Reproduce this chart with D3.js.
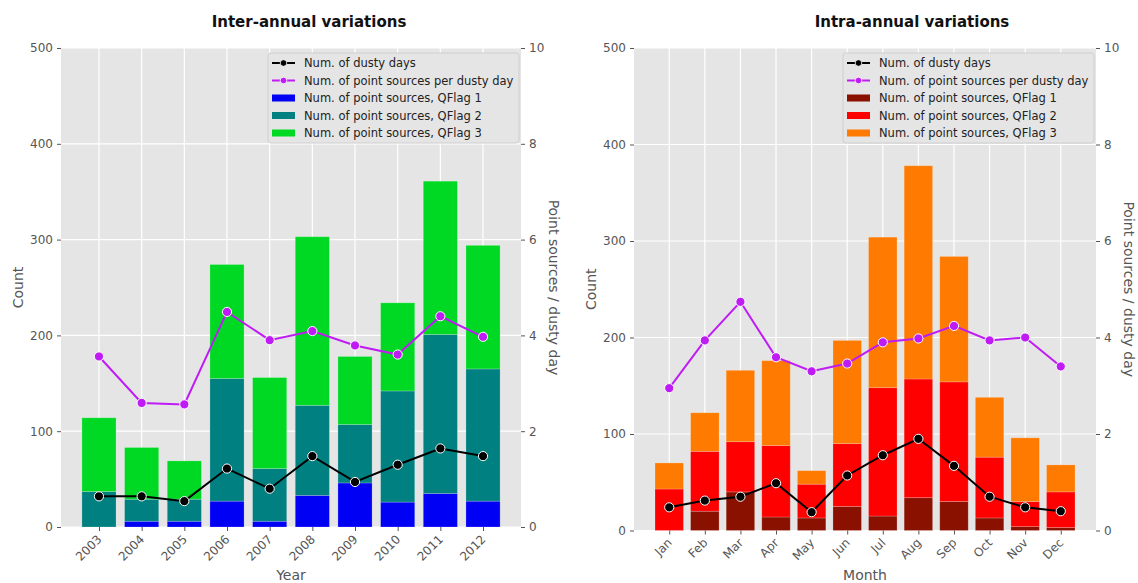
<!DOCTYPE html>
<html>
<head>
<meta charset="utf-8">
<script src="https://cdn.jsdelivr.net/npm/d3@7/dist/d3.min.js"></script>
<style>
  html, body { margin: 0; padding: 0; background: #ffffff; }
  svg { display: block; }
  text { font-family: "DejaVu Sans", sans-serif; }
</style>
</head>
<body>
<svg id="chart" width="1138" height="583"></svg>
<script>
// ---- Inter-annual data ----
const years = ["2003","2004","2005","2006","2007","2008","2009","2010","2011","2012"];
const yearQ1 = [0, 6, 6, 27, 6, 33, 46, 26, 35, 27];
const yearQ2 = [37, 23, 23, 128, 55, 94, 61, 116, 166, 138];
const yearQ3 = [77, 54, 40, 119, 95, 176, 71, 92, 160, 129];
const yearDustyDays = [32, 32, 27, 61, 40, 74, 47, 65, 82, 74];
const yearPerDay = [3.56, 2.59, 2.56, 4.49, 3.90, 4.09, 3.79, 3.60, 4.40, 3.97];

// ---- Intra-annual data ----
const months = ["Jan","Feb","Mar","Apr","May","Jun","Jul","Aug","Sep","Oct","Nov","Dec"];
const monthQ1 = [0, 20, 40, 14, 13, 25, 15, 34, 30, 13, 4, 3];
const monthQ2 = [43, 62, 52, 74, 35, 65, 133, 123, 124, 63, 26, 37];
const monthQ3 = [27, 40, 74, 88, 14, 107, 156, 221, 130, 62, 66, 28];
const monthDustyDays = [24, 31, 35, 49, 19, 57, 78, 95, 67, 35, 24, 20];
const monthPerDay = [2.95, 3.94, 4.74, 3.59, 3.30, 3.46, 3.90, 3.98, 4.24, 3.94, 4.00, 3.40];

// ---- Shared axis settings ----
const countTicks = [0, 100, 200, 300, 400, 500];
const ratioTicks = [0, 2, 4, 6, 8, 10];
const legendLabels = [
  "Num. of dusty days",
  "Num. of point sources per dusty day",
  "Num. of point sources, QFlag 1",
  "Num. of point sources, QFlag 2",
  "Num. of point sources, QFlag 3"
];

const svg = d3.select("#chart");
const GRID = "#ffffff", BG = "#e5e5e5", TICK = "#555555";
const PURPLE = "#bf1cf5";

function drawPanel(p) {
  const g = svg.append("g");
  const n = p.cats.length;
  const pad = 0.4 + 0.05 * ((n - 1) + 0.8);
  const x = d3.scaleLinear().domain([-pad, n - 1 + pad]).range([p.left, p.right]);
  const y = d3.scaleLinear().domain([0, 500]).range([p.bottom, p.top]);
  const y2 = d3.scaleLinear().domain([0, 10]).range([p.bottom, p.top]);

  // plot background
  g.append("rect").attr("x", p.left).attr("y", p.top)
    .attr("width", p.right - p.left).attr("height", p.bottom - p.top).attr("fill", BG);

  // grid
  g.append("g").selectAll("line").data(countTicks).join("line")
    .attr("x1", p.left).attr("x2", p.right)
    .attr("y1", d => y(d)).attr("y2", d => y(d))
    .attr("stroke", GRID).attr("stroke-width", 1.2);
  g.append("g").selectAll("line").data(d3.range(n)).join("line")
    .attr("x1", d => x(d)).attr("x2", d => x(d))
    .attr("y1", p.top).attr("y2", p.bottom)
    .attr("stroke", GRID).attr("stroke-width", 1.2);

  // stacked bars
  const rows = p.cats.map((c, i) => ({ i, q1: p.q1[i], q2: p.q2[i], q3: p.q3[i] }));
  const stack = d3.stack().keys(["q1", "q2", "q3"])(rows);
  const bw = x(0.8) - x(0);
  g.append("g").selectAll("g").data(stack).join("g")
    .attr("fill", (d, k) => p.colors[k])
    .selectAll("rect").data(d => d).join("rect")
    .attr("x", d => x(d.data.i) - bw / 2)
    .attr("width", bw)
    .attr("y", d => y(d[1]))
    .attr("height", d => Math.max(0, y(d[0]) - y(d[1])))
    .attr("stroke", "rgba(255,255,255,0.25)").attr("stroke-width", 0.8);

  // lines with markers
  function series(vals, scale, color) {
    const pts = vals.map((v, i) => [x(i), scale(v)]);
    g.append("path").attr("d", d3.line()(pts))
      .attr("fill", "none").attr("stroke", color).attr("stroke-width", 2);
    g.append("g").selectAll("circle").data(pts).join("circle")
      .attr("cx", d => d[0]).attr("cy", d => d[1]).attr("r", 4.6)
      .attr("fill", color).attr("stroke", "#ffffff").attr("stroke-width", 1);
  }
  series(p.days, y, "#000000");
  series(p.perDay, y2, PURPLE);

  // axes
  const axL = d3.axisLeft(y).tickValues(countTicks).tickSize(4).tickPadding(4);
  const axR = d3.axisRight(y2).tickValues(ratioTicks).tickSize(4).tickPadding(4);
  const axB = d3.axisBottom(x).tickValues(d3.range(n)).tickFormat(i => p.cats[i]).tickSize(4).tickPadding(3);
  function style(sel) {
    sel.select(".domain").remove();
    sel.selectAll(".tick line").attr("stroke", TICK);
    sel.selectAll(".tick text").attr("fill", TICK).attr("font-size", 12)
      .attr("font-family", "DejaVu Sans, sans-serif");
  }
  g.append("g").attr("transform", `translate(${p.left},0)`).call(axL).call(style);
  g.append("g").attr("transform", `translate(${p.right},0)`).call(axR).call(style);
  const bx = g.append("g").attr("transform", `translate(0,${p.bottom})`).call(axB).call(style);
  bx.selectAll(".tick text")
    .attr("text-anchor", "end").attr("dy", "0.35em")
    .attr("transform", "translate(0,10) rotate(-45)")
    .attr("y", 0).attr("x", 0);

  // labels
  g.append("text").attr("x", p.titleX).attr("y", 27)
    .attr("text-anchor", "middle").attr("font-size", 15).attr("font-weight", 700)
    .attr("font-family", "Lato, sans-serif").attr("fill", "#111")
    .text(p.title);
  g.append("text").attr("x", (p.left + p.right) / 2).attr("y", 580)
    .attr("text-anchor", "middle").attr("font-size", 14).attr("fill", TICK).text(p.xlabel);
  g.append("text").attr("transform", `translate(${p.left - 38},${(p.top + p.bottom) / 2}) rotate(-90)`)
    .attr("text-anchor", "middle").attr("font-size", 14).attr("fill", TICK).text("Count");
  g.append("text").attr("transform", `translate(${p.right + 28},${(p.top + p.bottom) / 2}) rotate(90)`)
    .attr("text-anchor", "middle").attr("font-size", 14).attr("fill", TICK).text("Point sources / dusty day");

  // legend
  const lx = p.right - 253, ly = 53;
  const lg = g.append("g").attr("transform", `translate(${lx},${ly})`);
  lg.append("rect").attr("width", 251).attr("height", 90).attr("rx", 3)
    .attr("fill", BG).attr("stroke", "#cfcfcf").attr("stroke-width", 1);
  legendLabels.forEach((lab, k) => {
    const cy = 10 + k * 17.5;
    const row = lg.append("g").attr("transform", `translate(0,${cy})`);
    if (k < 2) {
      const c = k === 0 ? "#000000" : PURPLE;
      row.append("line").attr("x1", 4).attr("x2", 27).attr("y1", 0).attr("y2", 0)
        .attr("stroke", c).attr("stroke-width", 2);
      row.append("circle").attr("cx", 15.5).attr("cy", 0).attr("r", 3.3)
        .attr("fill", c).attr("stroke", "#ffffff").attr("stroke-width", 0.8);
    } else {
      row.append("rect").attr("x", 4).attr("y", -3.5).attr("width", 23).attr("height", 7)
        .attr("fill", p.colors[k - 2]);
    }
    row.append("text").attr("x", 36).attr("y", 0).attr("dy", "0.35em")
      .attr("font-size", 11.5).attr("fill", "#222").text(lab);
  });
}

drawPanel({
  cats: years, q1: yearQ1, q2: yearQ2, q3: yearQ3,
  days: yearDustyDays, perDay: yearPerDay,
  colors: ["#0000f5", "#008080", "#00d924"],
  left: 61, right: 521, top: 48, bottom: 527, titleX: 309,
  title: "Inter-annual variations", xlabel: "Year"
});

drawPanel({
  cats: months, q1: monthQ1, q2: monthQ2, q3: monthQ3,
  days: monthDustyDays, perDay: monthPerDay,
  colors: ["#8a1000", "#ff0000", "#ff7a00"],
  left: 634, right: 1096, top: 48, bottom: 530.5, titleX: 912,
  title: "Intra-annual variations", xlabel: "Month"
});
</script>
</body>
</html>
